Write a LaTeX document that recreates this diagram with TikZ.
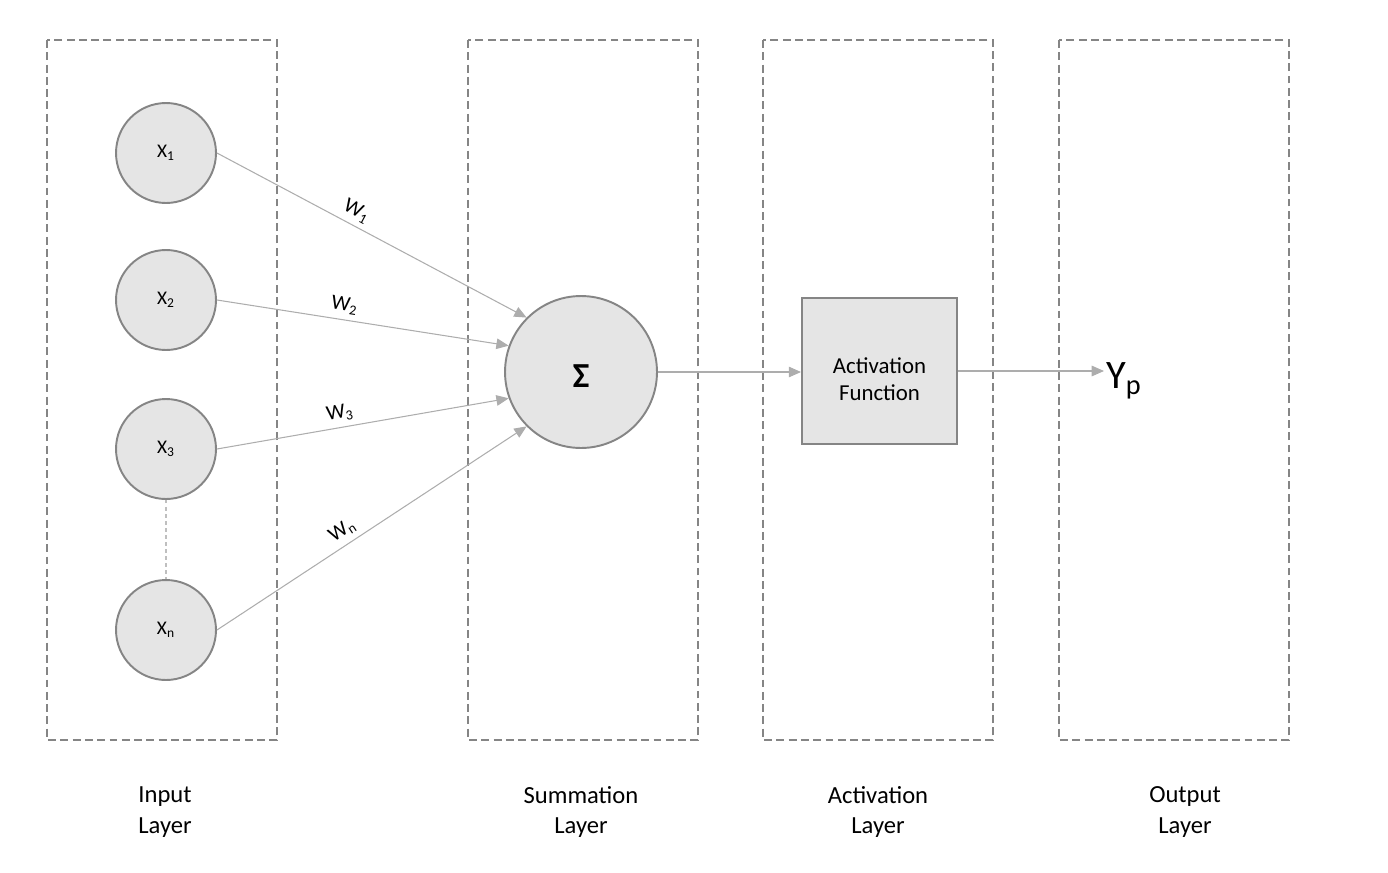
\documentclass[tikz,border=0pt]{standalone}
\usepackage{fontspec}
\setmainfont{Carlito}
\usetikzlibrary{arrows.meta}
\newcommand{\rimgray}{black!48}
\newcommand{\wiregray}{black!32}

\tikzset{
  layerbox/.style={draw=\rimgray, line width=1pt, dash pattern=on 4.5pt off 2.5pt},
  inp/.style={draw=\rimgray, fill=black!10, circle, line width=1.1pt, minimum size=2cm, inner sep=0pt, font=\fontsize{11}{13}\selectfont},
  sumnode/.style={draw=\rimgray, fill=black!10, circle, line width=1.1pt, minimum size=3.04cm, inner sep=0pt, font=\fontsize{20}{22}\selectfont\bfseries},
  actbox/.style={draw=\rimgray, fill=black!10, line width=1.1pt, minimum width=3.1cm, minimum height=2.92cm, inner sep=0pt},
  acttext/.style={align=center, inner sep=0pt, font=\fontsize{13}{15.5}\selectfont},
  wire/.style={draw=\wiregray, line width=.6pt, -{Triangle[length=7pt, width=6pt]}},
  wlabel/.style={sloped, above=2pt, pos=.43, inner sep=1pt, font=\fontsize{12}{14}\selectfont},
  laylabel/.style={align=center, font=\fontsize{14}{17.5}\selectfont}
}

\begin{document}
\begin{tikzpicture}[x=0.02cm, y=-0.02cm]
      \useasboundingbox (0,0) rectangle (1388,872);

          %%  Layer frames  %%
      \foreach \x in {47,468,763,1059}
      { \draw[layerbox] (\x,40) rectangle ++(230,700);}

          %%  Inputs  %%
      \foreach \j/\y in {1/153,2/300,3/449}
      { \node (x\j) at (166,\y) [inp] {X\textsubscript{\j}};}
      { \node (xn) at (166,630) [inp] {X\textsubscript{n}};}
      \draw[draw=black!25, line width=1pt, dash pattern=on 2pt off 2pt] (x3) to (xn);

          %%  Sum, activation, output  %%
      \node (sig) at (581,372) [sumnode] {};
      \node (sigtext) at (581,376) [font=\fontsize{20}{22}\selectfont\bfseries] {Σ};
      \node (act) at (879.5,371) [actbox] {};
      \node (acttxt) at (879.5,379) [acttext] {Activation\\Function};
      \node (yp) at (1104,381) [anchor=west, inner sep=1pt, font=\fontsize{23}{26}\selectfont] {Y\textsubscript{p}};

      \draw[wire] (x1.east) to node[wlabel] {W\textsubscript{1}} (sig.135);
      \draw[wire] (x2.east) to node[wlabel] {W\textsubscript{2}} (sig.160);
      \draw[wire] (x3.east) to node[wlabel] {W\textsubscript{3}} (sig.200);
      \draw[wire] (xn.east) to node[wlabel] {W\textsubscript{n}} (sig.225);
      \draw[wire] (sig.east) to (act.west |- sig.east);
      \draw[wire] (act.east) to (act.east -| yp.west);

          %%  Layer names  %%
      \node (lin) at (165,812) [laylabel] {Input\\Layer};
      \node (lsum) at (581,812) [laylabel] {Summation\\Layer};
      \node (lact) at (878,812) [laylabel] {Activation\\Layer};
      \node (lout) at (1185,812) [laylabel] {Output\\Layer};

        \end{tikzpicture}
\end{document}
